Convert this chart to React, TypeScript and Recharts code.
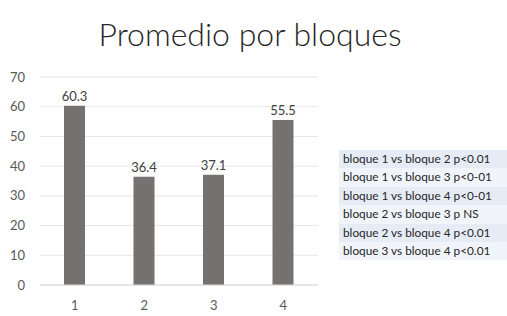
import { BarChart, Bar, XAxis, YAxis, CartesianGrid, LabelList } from 'recharts';

const BLOQUES = ['1', '2', '3', '4'];
const PROMEDIOS = [60.3, 36.4, 37.1, 55.5];
const Y_TICKS = [0, 10, 20, 30, 40, 50, 60, 70];
const COMPARACIONES = [
  'bloque 1 vs bloque 2 p<0.01',
  'bloque 1 vs bloque 3 p<0-01',
  'bloque 1 vs bloque 4 p<0-01',
  'bloque 2 vs bloque 3 p NS',
  'bloque 2 vs bloque 4 p<0.01',
  'bloque 3 vs bloque 4 p<0.01',
];

const FUENTE = 'Lato, "Open Sans", sans-serif';

const data = BLOQUES.map((b, i) => ({ bloque: b, promedio: PROMEDIOS[i] }));

export default function App() {
  return (
    <div
      style={{
        position: 'absolute',
        left: 0,
        top: 0,
        width: 507,
        height: 316,
        background: '#fff',
        fontFamily: FUENTE,
      }}
    >
      <div
        style={{
          position: 'absolute',
          top: 14,
          left: 0,
          width: 500,
          textAlign: 'center',
          fontSize: 32,
          fontWeight: 300,
          color: '#262626',
        }}
      >
        Promedio por bloques
      </div>

      <div style={{ position: 'absolute', left: 0, top: 0 }}>
        <BarChart
          width={330}
          height={316}
          data={data}
          margin={{ top: 77, right: 12, bottom: 1, left: 8 }}
        >
          <CartesianGrid vertical={false} stroke="#e6e6e6" />
          <XAxis
            dataKey="bloque"
            axisLine={{ stroke: '#d9d9d9' }}
            tickLine={false}
            tickMargin={10}
            height={30}
            tick={{ fill: '#595959', fontSize: 13, fontFamily: FUENTE }}
          />
          <YAxis
            domain={[0, 70]}
            ticks={Y_TICKS}
            width={32}
            axisLine={false}
            tickLine={false}
            tickMargin={9}
            tick={{ fill: '#595959', fontSize: 13, fontFamily: FUENTE }}
          />
          <Bar dataKey="promedio" fill="#767171" barSize={21} isAnimationActive={false}>
            <LabelList
              dataKey="promedio"
              position="top"
              offset={5}
              fill="#404040"
              fontSize={13}
              fontFamily={FUENTE}
            />
          </Bar>
        </BarChart>
      </div>

      <div style={{ position: 'absolute', left: 339, top: 150, width: 168 }}>
        {COMPARACIONES.map((c, i) => (
          <div
            key={i}
            style={{
              height: 18.4,
              lineHeight: '18.4px',
              paddingLeft: 4,
              fontSize: 11.8,
              color: '#262626',
              whiteSpace: 'nowrap',
              background: i % 2 === 0 ? '#e6ecf6' : '#f1f4fa',
            }}
          >
            {c}
          </div>
        ))}
      </div>
    </div>
  );
}
